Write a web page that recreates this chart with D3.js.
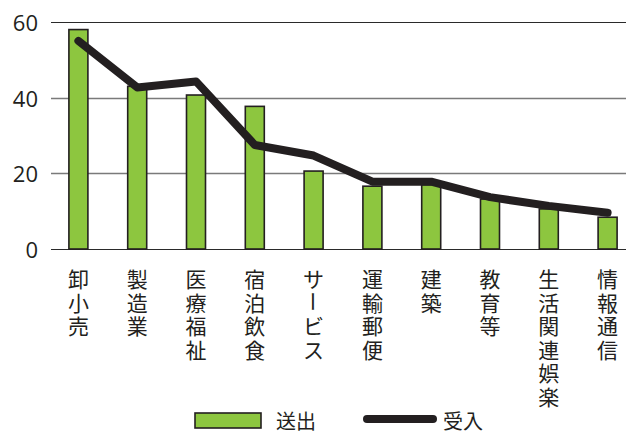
<!DOCTYPE html>
<html>
<head>
<meta charset="utf-8">
<script src="https://cdn.jsdelivr.net/npm/d3@7"></script>
<style>
  html, body { margin: 0; padding: 0; background: #fff; }
  svg { display: block; }
</style>
</head>
<body>
<div id="chart"></div>
<script>
// industries, bars = 送出, line = 受入
const categories = ['卸小売', '製造業', '医療福祉', '宿泊飲食', 'サービス', '運輸郵便', '建築', '教育等', '生活関連娯楽', '情報通信'];
const sendValues = [58, 43, 40.7, 37.7, 20.6, 16.6, 17, 13.2, 10.6, 8.4];
const receiveValues = [55, 42.7, 44.3, 27.5, 24.7, 17.8, 17.8, 13.7, 11.4, 9.6];
const yTicks = [0, 20, 40, 60];

(function () {
  const width = 626;
  const height = 431;

  const svg = d3.select('#chart')
    .append('svg')
    .attr('width', width)
    .attr('height', height);

  const x = d3.scaleBand()
    .domain(categories)
    .range([49, 637])
    .padding(0);

  const y = d3.scaleLinear()
    .domain([0, 60])
    .range([249, 22]);

  const gridLeft = 51;
  const gridRight = width;

  // gridlines
  svg.append('g')
    .selectAll('line')
    .data(yTicks)
    .enter()
    .append('line')
    .attr('x1', gridLeft)
    .attr('x2', gridRight)
    .attr('y1', d => Math.round(y(d)) + 0.5)
    .attr('y2', d => Math.round(y(d)) + 0.5)
    .attr('stroke', d => (d === 0 || d === 60) ? '#2a2a2a' : '#7a7a7a')
    .attr('stroke-width', d => (d === 0 || d === 60) ? 1.2 : 1.4);

  // y tick labels
  svg.append('g')
    .selectAll('text')
    .data(yTicks)
    .enter()
    .append('text')
    .attr('x', 38)
    .attr('y', d => y(d))
    .attr('text-anchor', 'end')
    .attr('dominant-baseline', 'central')
    .attr('font-family', '"Open Sans", "Noto Sans", sans-serif')
    .attr('font-size', 22)
    .attr('fill', '#231f20')
    .text(d => d);

  // bars
  const barW = 19;
  svg.append('g')
    .selectAll('rect')
    .data(sendValues)
    .enter()
    .append('rect')
    .attr('x', (d, i) => x(categories[i]) + x.bandwidth() / 2 - barW / 2)
    .attr('y', d => y(d))
    .attr('width', barW)
    .attr('height', d => y(0) - y(d))
    .attr('fill', '#8dc63f')
    .attr('stroke', '#231f20')
    .attr('stroke-width', 1.6);

  // line
  const line = d3.line()
    .x((d, i) => x(categories[i]) + x.bandwidth() / 2)
    .y(d => y(d));

  svg.append('path')
    .datum(receiveValues)
    .attr('d', line)
    .attr('fill', 'none')
    .attr('stroke', '#231f20')
    .attr('stroke-width', 8)
    .attr('stroke-linecap', 'round')
    .attr('stroke-linejoin', 'round');

  // vertical category labels, one character per line
  const charStep = 23.5;
  const labelTop = 278;
  const labelG = svg.append('g')
    .attr('font-family', '"Noto Sans CJK JP", sans-serif')
    .attr('font-size', 21)
    .attr('fill', '#231f20');

  categories.forEach(cat => {
    const cx = x(cat) + x.bandwidth() / 2;
    Array.from(cat).forEach((ch, k) => {
      const cy = labelTop + k * charStep;
      const t = labelG.append('text')
        .attr('text-anchor', 'middle')
        .attr('dominant-baseline', 'central')
        .text(ch);
      if (ch === 'ー') {
        // long vowel mark turns upright in vertical text
        t.attr('transform', `translate(${cx},${cy}) rotate(90)`)
          .attr('x', 0)
          .attr('y', 0);
      } else {
        t.attr('x', cx).attr('y', cy);
      }
    });
  });

  // legend
  const legend = svg.append('g');
  legend.append('rect')
    .attr('x', 195)
    .attr('y', 413)
    .attr('width', 66)
    .attr('height', 15)
    .attr('fill', '#8dc63f')
    .attr('stroke', '#231f20')
    .attr('stroke-width', 1.6);
  legend.append('text')
    .attr('x', 276)
    .attr('y', 420)
    .attr('dominant-baseline', 'central')
    .attr('font-family', '"Noto Sans CJK JP", sans-serif')
    .attr('font-size', 20)
    .attr('fill', '#231f20')
    .text('送出');
  legend.append('line')
    .attr('x1', 367)
    .attr('x2', 433)
    .attr('y1', 419)
    .attr('y2', 419)
    .attr('stroke', '#231f20')
    .attr('stroke-width', 8)
    .attr('stroke-linecap', 'round');
  legend.append('text')
    .attr('x', 443)
    .attr('y', 420)
    .attr('dominant-baseline', 'central')
    .attr('font-family', '"Noto Sans CJK JP", sans-serif')
    .attr('font-size', 20)
    .attr('fill', '#231f20')
    .text('受入');
})();
</script>
</body>
</html>
